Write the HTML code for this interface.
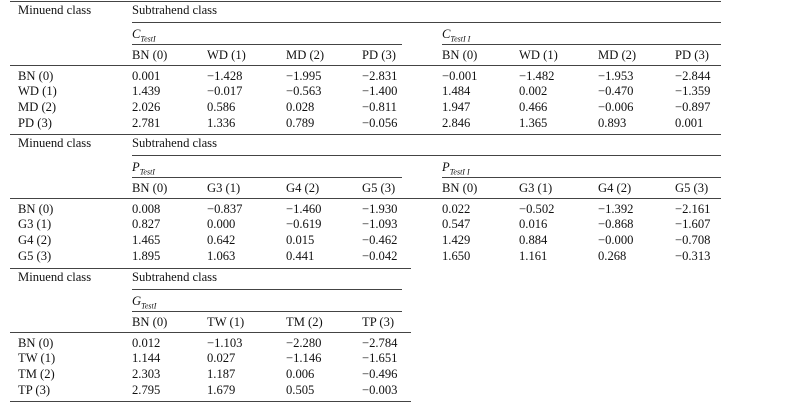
<!DOCTYPE html>
<html><head><meta charset="utf-8"><style>
body{margin:0;width:792px;height:413px;background:#fff;position:relative;overflow:hidden;font-family:"Liberation Serif",serif;color:#111;}
.t{position:absolute;font-size:12.6px;line-height:14px;white-space:nowrap;}
.l{position:absolute;height:1px;background:#444;}
i sub{font-size:8px;}
</style></head><body>
<div id="root"></div>
<script>
const sections=[
 {blocks:[{title:"C",sub:"TestI",cols:["BN (0)","WD (1)","MD (2)","PD (3)"],vals:[["0.001","−1.428","−1.995","−2.831"],["1.439","−0.017","−0.563","−1.400"],["2.026","0.586","0.028","−0.811"],["2.781","1.336","0.789","−0.056"]]},
          {title:"C",sub:"TestI I",cols:["BN (0)","WD (1)","MD (2)","PD (3)"],vals:[["−0.001","−1.482","−1.953","−2.844"],["1.484","0.002","−0.470","−1.359"],["1.947","0.466","−0.006","−0.897"],["2.846","1.365","0.893","0.001"]]}],
  rows:["BN (0)","WD (1)","MD (2)","PD (3)"]},
 {blocks:[{title:"P",sub:"TestI",cols:["BN (0)","G3 (1)","G4 (2)","G5 (3)"],vals:[["0.008","−0.837","−1.460","−1.930"],["0.827","0.000","−0.619","−1.093"],["1.465","0.642","0.015","−0.462"],["1.895","1.063","0.441","−0.042"]]},
          {title:"P",sub:"TestI I",cols:["BN (0)","G3 (1)","G4 (2)","G5 (3)"],vals:[["0.022","−0.502","−1.392","−2.161"],["0.547","0.016","−0.868","−1.607"],["1.429","0.884","−0.000","−0.708"],["1.650","1.161","0.268","−0.313"]]}],
  rows:["BN (0)","G3 (1)","G4 (2)","G5 (3)"]},
 {blocks:[{title:"G",sub:"TestI",cols:["BN (0)","TW (1)","TM (2)","TP (3)"],vals:[["0.012","−1.103","−2.280","−2.784"],["1.144","0.027","−1.146","−1.651"],["2.303","1.187","0.006","−0.496"],["2.795","1.679","0.505","−0.003"]]}],
  rows:["BN (0)","TW (1)","TM (2)","TP (3)"]}
];
const tops=[1,134,268];
const blockX=[[132,207,286,362],[442,519,598,675]];
const blockLine=[[132,402],[442,721]];
const rowOff=[75,90,106,122];
const root=document.getElementById('root');
function txt(x,yc,s,name){const d=document.createElement('div');d.className='t';d.style.left=x+'px';d.style.top=(yc-7)+'px';d.innerHTML=s;


root.appendChild(d);}
function line(x1,x2,y,name){const d=document.createElement('div');d.className='l';d.style.left=x1+'px';d.style.width=(x2-x1)+'px';d.style.top=y+'px';


root.appendChild(d);}
sections.forEach((s,si)=>{
 const t=tops[si];const right=s.blocks.length>1?721:411;
 line(10,right,t,'section-top-rule');
 txt(18,t+9,'Minuend class','minuend-header');
 txt(132,t+9,'Subtrahend class','subtrahend-header');
 line(132,right==721?721:402,t+21,'subtrahend-rule');
 line(10,right,t+64,'header-rule');
 s.rows.forEach((r,ri)=>txt(18,t+rowOff[ri],r,'row-label'));
 s.blocks.forEach((b,bi)=>{
  txt(blockX[bi][0],t+33,'<i>'+b.title+'<sub>'+b.sub+'</sub></i>','block-title');
  line(blockLine[bi][0],blockLine[bi][1],t+43,'block-rule');
  b.cols.forEach((c,ci)=>txt(blockX[bi][ci],t+54,c,'column-header'));
  b.vals.forEach((row,ri)=>row.forEach((v,ci)=>txt(blockX[bi][ci],t+rowOff[ri],v,'cell-value')));
 });
});
line(10,411,401,'table-bottom-rule');
</script>
</body></html>
